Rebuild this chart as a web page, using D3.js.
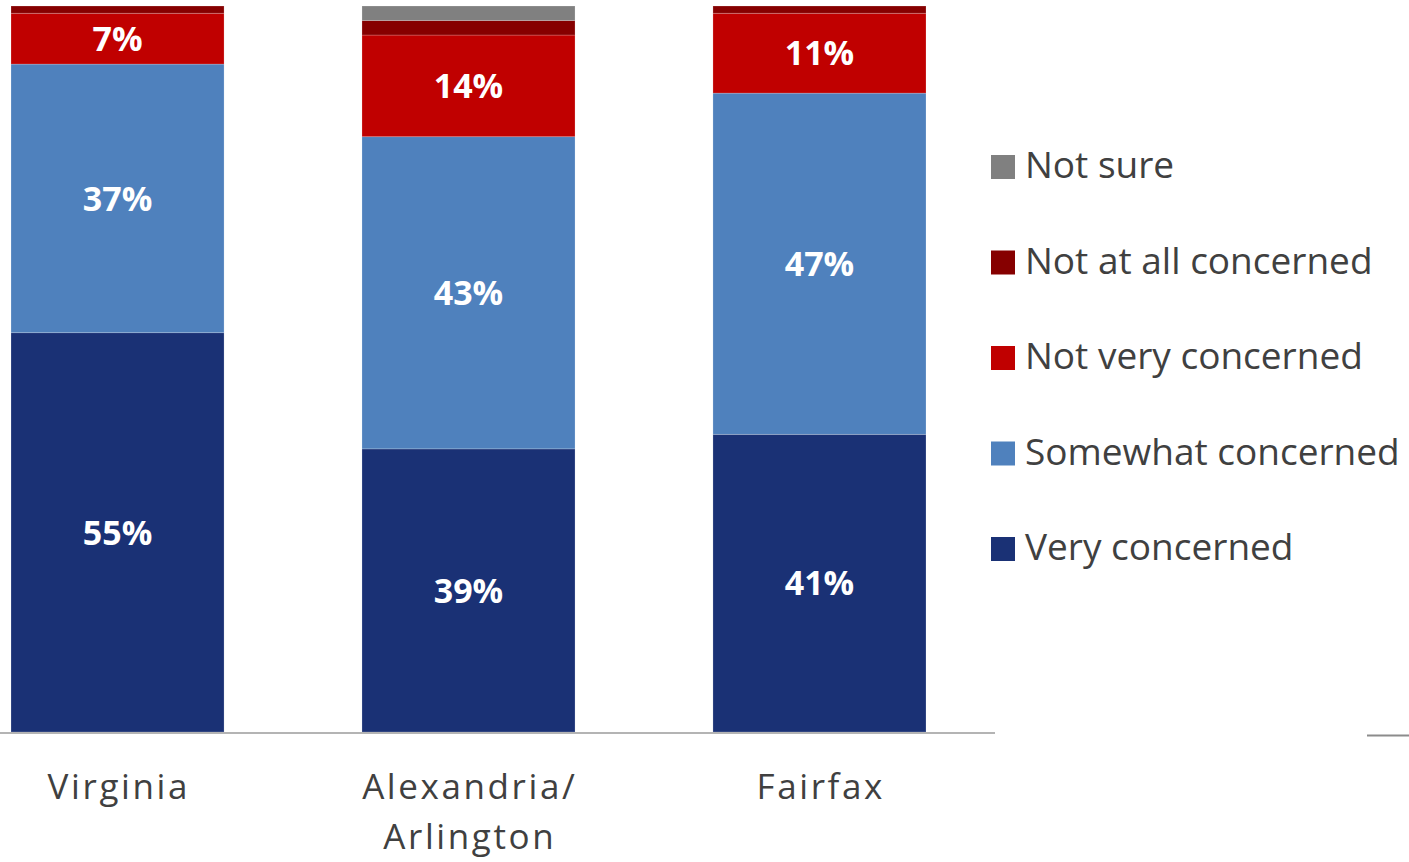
<!DOCTYPE html>
<html>
<head>
<meta charset="utf-8">
<script src="https://cdn.jsdelivr.net/npm/d3@7"></script>
<style>
  html, body { margin: 0; padding: 0; background: #ffffff; }
  svg { display: block; }
</style>
</head>
<body>
<svg id="chart" width="1409" height="862"></svg>
<script>
// Concern level by region (percent of respondents)
const categories = ["Virginia", "Alexandria/Arlington", "Fairfax"];
const categoryLines = [["Virginia"], ["Alexandria/", "Arlington"], ["Fairfax"]];
const seriesNames = ["Very concerned", "Somewhat concerned", "Not very concerned", "Not at all concerned", "Not sure"];
const veryConcerned = [55, 39, 41];
const somewhatConcerned = [37, 43, 47];
const notVeryConcerned = [7, 14, 11];
const notAtAllConcerned = [1, 2, 1];
const notSure = [0, 2, 0];
const seriesColors = ["#1a3175", "#4f81bd", "#c00000", "#860000", "#808080"];

const seriesValues = [veryConcerned, somewhatConcerned, notVeryConcerned, notAtAllConcerned, notSure];
const rows = categories.map((c, i) => {
  const r = { category: c };
  seriesNames.forEach((s, k) => r[s] = seriesValues[k][i]);
  return r;
});
const stacked = d3.stack().keys(seriesNames)(rows);

const svg = d3.select("#chart");
const FONT = "'Open Sans', sans-serif";

const x = d3.scaleBand().domain(categories).range([-58, 995]).paddingInner(0.393).paddingOuter(0.1966);
const y = d3.scaleLinear().domain([0, 100]).range([732, 6]);
const color = d3.scaleOrdinal().domain(seriesNames).range(seriesColors);

// Stacked segments
const layers = svg.append("g").selectAll("g").data(stacked).join("g")
  .attr("fill", d => color(d.key));
layers.selectAll("rect").data(d => d).join("rect")
  .attr("x", d => x(d.data.category))
  .attr("y", d => y(d[1]))
  .attr("width", x.bandwidth())
  .attr("height", d => Math.max(0, y(d[0]) - y(d[1])))
  .attr("stroke", "rgba(255,255,255,0.25)")
  .attr("stroke-width", 0.8);

// Value labels on segments big enough to hold them
const labelG = svg.append("g");
stacked.forEach(layer => {
  layer.forEach(d => {
    const v = d[1] - d[0];
    if (v < 5) return;
    labelG.append("text")
      .attr("x", x(d.data.category) + x.bandwidth() / 2)
      .attr("y", (y(d[0]) + y(d[1])) / 2)
      .attr("dy", "0.36em")
      .attr("text-anchor", "middle")
      .attr("fill", "#ffffff")
      .attr("font-family", FONT)
      .attr("font-weight", 700)
      .attr("font-size", 34)
      .text(v + "%");
  });
});

// Category axis baseline
svg.append("line")
  .attr("x1", 0).attr("x2", 995)
  .attr("y1", 733).attr("y2", 733)
  .attr("stroke", "#b4b4b4").attr("stroke-width", 2);
svg.append("line")
  .attr("x1", 1367).attr("x2", 1409)
  .attr("y1", 735.5).attr("y2", 735.5)
  .attr("stroke", "#8c8c8c").attr("stroke-width", 2);

// Category labels
const xl = svg.append("g");
categories.forEach((c, i) => {
  const cx = x(c) + x.bandwidth() / 2 + 1.3;
  const t = xl.append("text")
    .attr("x", cx)
    .attr("y", 799)
    .attr("text-anchor", "middle")
    .attr("fill", "#404040")
    .attr("font-family", FONT)
    .attr("font-size", 35)
    .attr("letter-spacing", "2.6px");
  categoryLines[i].forEach((line, j) => {
    t.append("tspan")
      .attr("x", cx)
      .attr("dy", j === 0 ? 0 : 50)
      .text(line);
  });
});

// Legend, top entry is the last stacked series
const legendOrder = seriesNames.slice().reverse();
const legend = svg.append("g");
const legendY = d3.scalePoint().domain(legendOrder).range([167, 549]);
legendOrder.forEach(s => {
  const cy = legendY(s);
  legend.append("rect")
    .attr("x", 991).attr("y", cy - 12)
    .attr("width", 24).attr("height", 24)
    .attr("fill", color(s));
  legend.append("text")
    .attr("x", 1025).attr("y", cy + 11)
    .attr("fill", "#404040")
    .attr("font-family", FONT)
    .attr("font-size", 37)
    .text(s);
});
</script>
</body>
</html>
